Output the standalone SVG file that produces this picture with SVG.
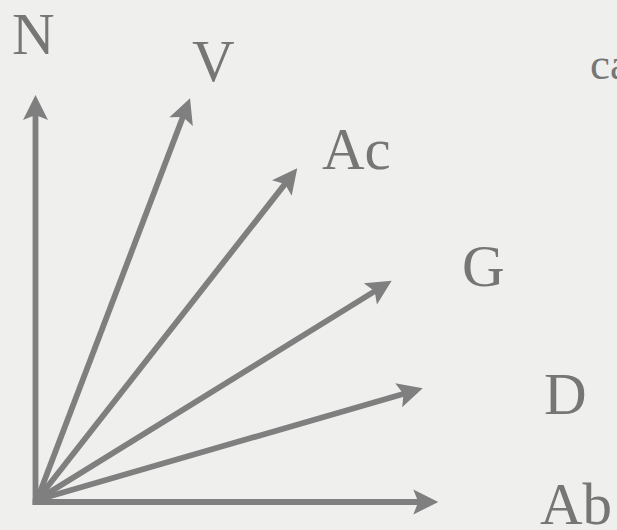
<svg xmlns="http://www.w3.org/2000/svg" width="617" height="530" viewBox="0 0 617 530">
  <defs>
    <style>
      .lbl { font-family: "Liberation Serif", "DejaVu Serif", serif; font-size: 59px; fill: #767676; }
      .small { font-size: 45px; }
      .arr { stroke: #7f7f7f; stroke-width: 5.8; fill: none; marker-end: url(#head); }
    </style>
    <marker id="head" markerUnits="userSpaceOnUse" markerWidth="30" markerHeight="30" refX="10" refY="0" orient="auto" overflow="visible">
      <path d="M0,-12.5 L25,0 L0,12.5 L5,0 Z" fill="#7f7f7f"/>
    </marker>
  </defs>
  <rect width="617" height="530" fill="#efefed"/>
  <g id="connectors">
    <line class="arr" x1="35.5" y1="504.9" x2="35.5" y2="110"/>
    <line class="arr" x1="32.6" y1="502" x2="423.3" y2="502"/>
    <line class="arr" x1="37" y1="500" x2="184.7" y2="112.3"/>
    <line class="arr" x1="37" y1="500" x2="288.0" y2="180.1"/>
    <line class="arr" x1="37" y1="500" x2="378.9" y2="288.6"/>
    <line class="arr" x1="37" y1="500" x2="408.3" y2="392.5"/>
  </g>
  <g id="N"><text class="lbl" x="12" y="54">N</text></g>
  <g id="V"><text class="lbl" x="192" y="81">V</text></g>
  <g id="Ac"><text class="lbl" x="322" y="169">Ac</text></g>
  <g id="G"><text class="lbl" x="462" y="286">G</text></g>
  <g id="D"><text class="lbl" x="544" y="414">D</text></g>
  <g id="Ab"><text class="lbl" x="540" y="524">Ab</text></g>
  <g id="ca"><text class="lbl small" x="590" y="79">ca</text></g>
</svg>
